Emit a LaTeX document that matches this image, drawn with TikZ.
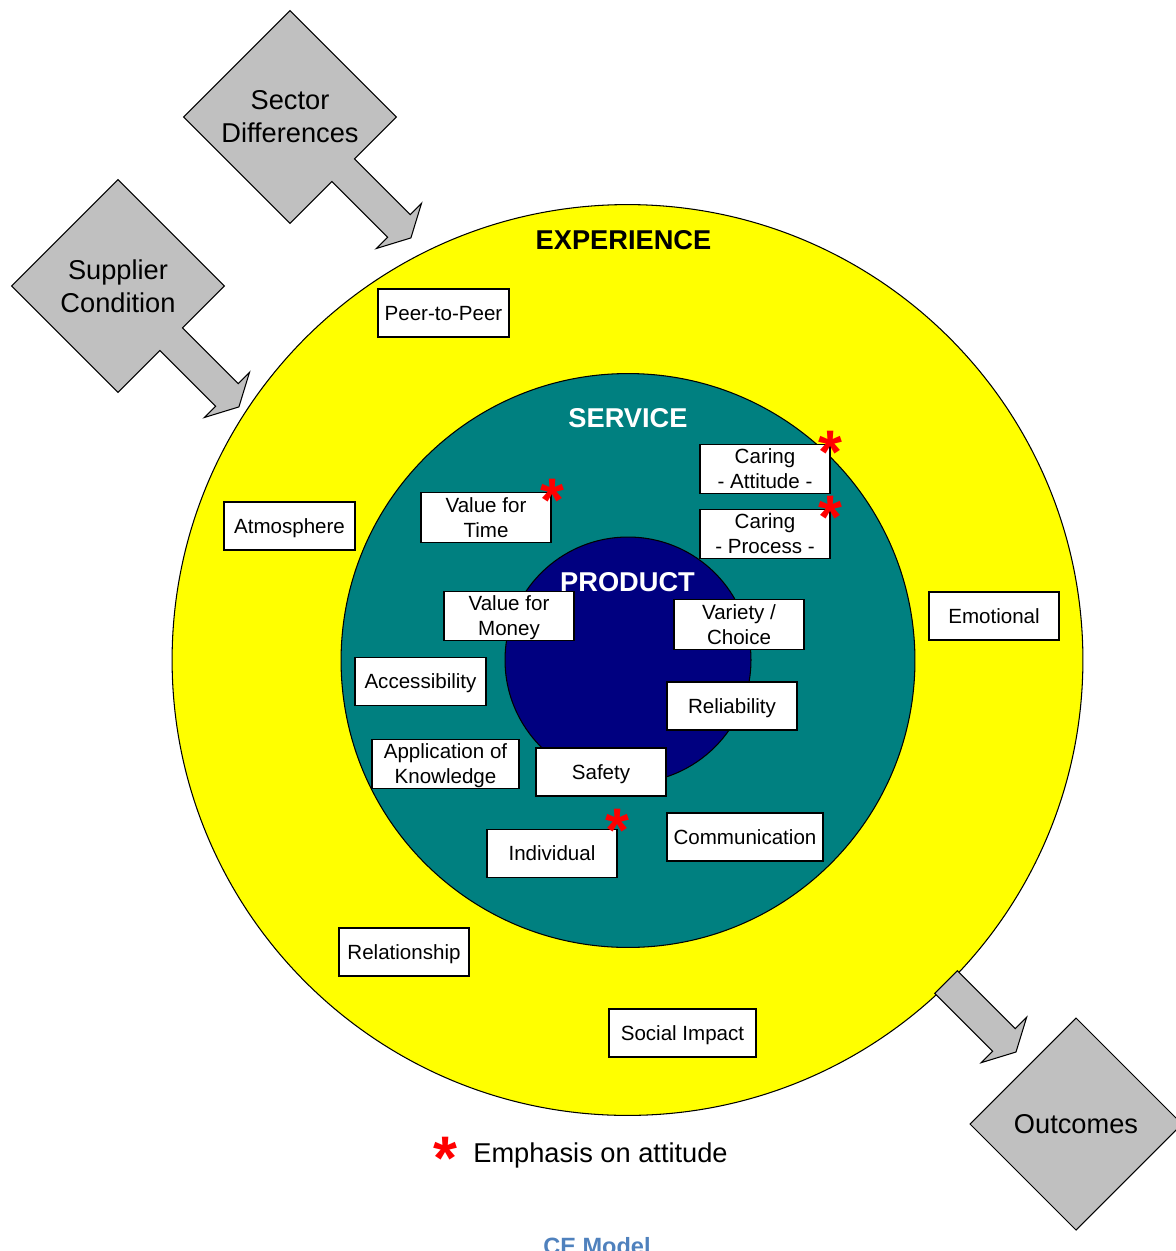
\documentclass[tikz,border=0pt]{standalone}
\usepackage{fontspec}
\setmainfont{Liberation Sans}
\definecolor{expyellow}{RGB}{255,255,0}
\definecolor{servteal}{RGB}{0,128,128}
\definecolor{prodnavy}{RGB}{0,0,128}
\definecolor{shapegrey}{RGB}{192,192,192}
\definecolor{titleblue}{RGB}{79,129,189}
\definecolor{markred}{RGB}{255,0,0}

% strut that centres capitals on the line
\newcommand\lblstrut{\rule[-0.234em]{0pt}{1.184em}}
% diamond with a block arrow leaving its lower-right side (u,v frame)
\newcommand\diamondarrow[1]{%
  \begin{scope}[shift={(#1)}, x={(0.014142cm,-0.014142cm)}, y={(0.014142cm,0.014142cm)}]
    \draw[greyshape] (-75.3,75.3) -- (75.3,75.3) -- (75.3,16) -- (154,16) -- (154,32)
      -- (171,0) -- (154,-32) -- (154,-16) -- (75.3,-16) -- (75.3,-75.3)
      -- (-75.3,-75.3) -- cycle;
  \end{scope}}

\begin{document}
\begin{tikzpicture}[x=0.02cm,y=-0.02cm,
  ring/.style={draw=black, line width=0.6pt},
  greyshape/.style={draw=black, fill=shapegrey, line width=0.6pt, line join=miter},
  item/.style={draw=black, fill=white, line width=0.6pt, inner sep=0pt,
    minimum width=2.6cm, minimum height=0.96cm, align=center,
    font=\fontsize{11.7}{14.2}\selectfont},
  bigtext/.style={inner sep=0pt, align=center, font=\fontsize{15.5}{18.7}\selectfont},
  ringtitle/.style={inner sep=0pt, font=\fontsize{15.5}{18.7}\selectfont\bfseries},
  attmark/.style={inner sep=0pt, anchor=base, text=markred,
    font=\fontsize{35}{40}\selectfont\bfseries}]

\useasboundingbox (0,0) rectangle (1176,1251);
\clip (0,0) rectangle (1176,1251);

% the three rings
\coordinate (ctr) at (628,660);
\draw[ring, fill=expyellow] (627.5,660) circle[radius=9.11cm];
\draw[ring, fill=servteal] (628,660.5) circle[radius=5.74cm];
\draw[ring, fill=prodnavy] (ctr) circle[radius=2.46cm];

\node[ringtitle, text=black] (experience) at (623.5,240) {EXPERIENCE};
\node[ringtitle, text=white] (service) at (628,418) {SERVICE};
\node[ringtitle, text=white] (product) at (627.5,582) {PRODUCT};

% factor boxes
\node[item, minimum width=2.62cm] (peer) at (443.5,313) {Peer-to-Peer\lblstrut};
\node[item, minimum width=2.62cm] (atmos) at (289.5,526) {Atmosphere\lblstrut};
\node[item] (vtime) at (486,517.5) {Value for\lblstrut\\Time\lblstrut};
\node[item] (cattitude) at (765,469) {Caring\lblstrut\\- Attitude -\lblstrut};
\node[item] (cprocess) at (765,534) {Caring\lblstrut\\- Process -\lblstrut};
\node[item] (vmoney) at (509,616) {Value for\lblstrut\\Money\lblstrut};
\node[item] (variety) at (739,624.5) {Variety /\lblstrut\\Choice\lblstrut};
\node[item] (emotional) at (994,616) {Emotional\lblstrut};
\node[item, minimum width=2.62cm] (access) at (420.5,681.5) {Accessibility\lblstrut};
\node[item] (reliab) at (732,706) {Reliability\lblstrut};
\node[item, minimum width=2.94cm] (appknow) at (445.5,764) {Application of\lblstrut\\Knowledge\lblstrut};
\node[item] (safety) at (601,772) {Safety\lblstrut};
\node[item] (individual) at (552,853.5) {Individual\lblstrut};
\node[item, minimum width=3.12cm] (comm) at (745,837) {Communication\lblstrut};
\node[item] (relation) at (404,952) {Relationship\lblstrut};
\node[item, minimum width=2.94cm] (social) at (682.5,1033) {Social Impact\lblstrut};

% attitude marks
\node[attmark] (m1) at (552,521) {*};
\node[attmark] (m2) at (830,473) {*};
\node[attmark] (m3) at (830,538) {*};
\node[attmark] (m4) at (617,851) {*};
\node[attmark] (m5) at (445,1179) {*};
\node[bigtext, anchor=base west] (legend) at (473,1162) {Emphasis on attitude};

% influences and outcome
\coordinate (sdc) at (290,117);
\coordinate (scc) at (118,286);
\diamondarrow{sdc}
\diamondarrow{scc}
\node[bigtext] (sector) at (sdc) {Sector\\Differences};
\node[bigtext] (supplier) at (scc) {Supplier\\Condition};

\coordinate (outstart) at (946,982);
\begin{scope}[shift={(outstart)}, x={(0.014142cm,-0.014142cm)}, y={(0.014142cm,0.014142cm)}]
  \draw[greyshape] (0,16) -- (82,16) -- (82,32) -- (99,0) -- (82,-32) -- (82,-16) -- (0,-16) -- cycle;
\end{scope}
\draw[greyshape] (1076,1018) -- (1182,1124) -- (1076,1230) -- (970,1124) -- cycle;
\node[bigtext] (outcomes) at (1076,1124) {Outcomes};

\node[inner sep=0pt, anchor=base, text=titleblue, font=\fontsize{13.4}{16}\selectfont\bfseries] (caption) at (597,1254) {CE Model};
\end{tikzpicture}
\end{document}
